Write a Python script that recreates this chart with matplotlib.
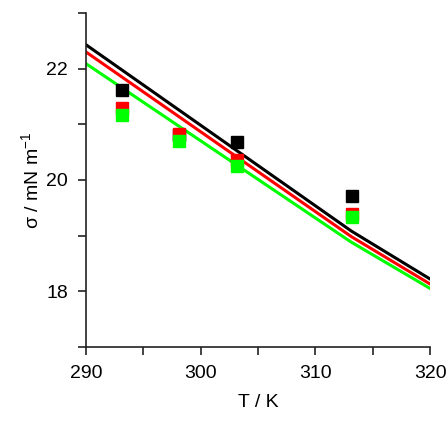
import matplotlib.pyplot as plt
from matplotlib.ticker import MultipleLocator

plt.rcParams['font.family'] = ['Liberation Sans', 'DejaVu Sans']

# measured points
T_exp = [293.15, 298.15, 303.15, 313.15]
sigma_black = [21.62, 20.80, 20.68, 19.72]
sigma_red = [21.30, 20.82, 20.36, 19.38]
sigma_green = [21.16, 20.70, 20.25, 19.33]

# model lines
T_line = [290, 313.15, 320]
line_black = [22.43, 19.08, 18.22]
line_red = [22.30, 18.98, 18.13]
line_green = [22.09, 18.88, 18.05]

fig = plt.figure(figsize=(4.48, 4.21), dpi=100)
ax = fig.add_axes([0.192, 0.176, 0.768, 0.793])

ax.plot(T_line, line_black, color='black', lw=2.2)
ax.plot(T_line, line_red, color='red', lw=2.2)
ax.plot(T_line, line_green, color='#00ff00', lw=2.2)

ax.plot(T_exp, sigma_black, 's', color='black', ms=8.5)
ax.plot(T_exp, sigma_red, 's', color='red', ms=8.5)
ax.plot(T_exp, sigma_green, 's', color='#00ff00', ms=8.5)

ax.set_xlim(290, 320)
ax.set_ylim(17, 23)
ax.xaxis.set_major_locator(MultipleLocator(10))
ax.xaxis.set_minor_locator(MultipleLocator(5))
ax.yaxis.set_major_locator(MultipleLocator(2))
ax.yaxis.set_minor_locator(MultipleLocator(1))

for s in ['top', 'right']:
    ax.spines[s].set_visible(False)
for s in ['left', 'bottom']:
    ax.spines[s].set_color('#222222')
    ax.spines[s].set_linewidth(1.2)

ax.tick_params(which='both', direction='out', width=1.2, color='#222222', labelsize=14)
ax.tick_params(which='major', length=6, pad=7)
ax.tick_params(which='minor', length=6)

ax.set_xlabel('T / K', fontsize=14, labelpad=9)
ax.set_ylabel('σ / mN m$^{\\mathregular{-1}}$', fontsize=14, labelpad=2)

fig.savefig('out.png', dpi=100)
